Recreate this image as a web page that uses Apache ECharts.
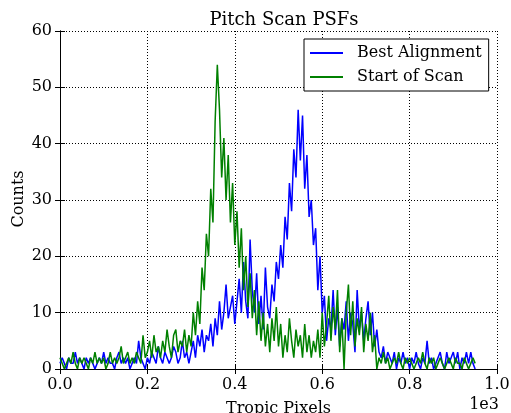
<!DOCTYPE html>
<html>
<head>
<meta charset="utf-8">
<script src="https://cdn.jsdelivr.net/npm/echarts@6/dist/echarts.min.js"></script>
<style>
html,body{margin:0;padding:0;background:#fff;}
#chart{width:511px;height:413px;}
</style>
</head>
<body>
<div id="chart"></div>
<script>
// Tropic pixel positions: samples every 5 pixels from 0 to 950
const xStep = 5;

// Best Alignment counts (one value per 5 pixels)
const bestAlignment = [
  1,2,1,0,2,1,1,3,1,2, 1,0,2,1,2,1,0,1,2,1, 3,1,2,1,1,0,2,3,1,2, 1,2,0,1,2,1,5,2,1,0,
  2,1,3,2,1,4,2,1,3,2, 1,2,4,3,1,2,5,2,3,1,
  3,5,2,6,4,7,3,6,5,8, 4,9,6,12,7,10,15,9,11,13,
  8,12,16,10,19,12,9,23,14,10, 17,8,13,7,18,11,9,15,12,19,
  16,22,18,27,23,33,28,39,34,46, 37,45,32,38,27,30,22,25,14,20,
  10,13,5,9,7,14,6,11,4,9, 7,12,5,10,8,3,14,7,10,5,
  9,12,6,10,4,7,3,2,4,1, 3,2,1,3,0,2,1,3,1,2,
  0,2,1,3,1,0,2,1,5,1, 2,0,1,2,3,1,0,3,1,2, 3,1,3,0,2,1,3,1,3,1, 0
];

// Start of Scan counts (one value per 5 pixels)
const startOfScan = [
  2,1,0,1,2,1,3,1,0,2, 1,2,1,0,2,1,3,1,2,1, 2,0,1,3,1,2,1,2,4,1, 2,3,1,2,1,3,2,1,6,2,
  3,5,2,6,3,4,2,5,3,7, 4,2,6,7,3,5,4,7,3,6,
  4,10,6,12,8,18,14,24,20,32, 26,44,54,46,34,41,30,38,26,33,
  22,28,18,25,14,20,11,17,9,14, 6,12,5,10,4,8,3,9,5,11,
  4,8,2,6,3,9,5,2,7,4, 6,2,8,3,6,2,5,3,7,2,
  10,4,8,13,5,11,7,14,3,9, 0,10,15,6,12,4,9,6,11,3,
  8,5,10,3,6,0,2,1,3,1, 2,0,1,2,1,3,1,0,2,1,
  2,1,0,1,2,1,3,1,0,2, 1,2,0,1,2,1,0,1,2,1, 0,2,1,1,0,2,1,0,1,2, 1
];

const seriesNames = ['Best Alignment', 'Start of Scan'];
const seriesColors = ['#0000ff', '#008000'];
const xTicks = [0, 200, 400, 600, 800, 1000];
const yTicks = [0, 10, 20, 30, 40, 50, 60];

function toPairs(vals) {
  return vals.map((v, i) => [i * xStep, v]);
}

const font = 'DejaVu Serif';
const chart = echarts.init(document.getElementById('chart'), null, {renderer: 'canvas'});

const tickStyle = {show: true, inside: true, length: 5, lineStyle: {color: '#000', width: 1}};
const lineStyle = {show: true, lineStyle: {color: '#000', width: 1}};
const gridLine = {show: true, lineStyle: {color: '#000', width: 1, type: [1, 2]}};

chart.setOption({
  animation: false,
  backgroundColor: '#fff',
  title: {
    text: 'Pitch Scan PSFs',
    left: 279, top: 6, textAlign: 'center',
    textStyle: {fontFamily: font, fontSize: 18, fontWeight: 'normal', color: '#000'}
  },
  grid: {left: 60, right: 14, top: 31, bottom: 44, containLabel: false, outerBoundsMode: 'none'},
  legend: {
    data: seriesNames,
    orient: 'vertical',
    left: 304, top: 39,
    padding: [5, 7, 5, 6],
    itemGap: 6,
    itemWidth: 33, itemHeight: 2,
    icon: 'rect',
    borderColor: '#000', borderWidth: 1, borderRadius: 0,
    backgroundColor: '#fff',
    textStyle: {fontFamily: font, fontSize: 16, color: '#000', padding: [0, 0, 0, 9], lineHeight: 18}
  },
  xAxis: [{
    type: 'value', min: xTicks[0], max: xTicks[xTicks.length - 1], interval: 200,
    name: 'Tropic Pixels', nameLocation: 'middle', nameGap: 32,
    nameTextStyle: {fontFamily: font, fontSize: 16, color: '#000'},
    axisLine: lineStyle, axisTick: tickStyle, splitLine: gridLine,
    axisLabel: {fontFamily: font, fontSize: 16, color: '#000', margin: 8,
      formatter: v => (v / 1000).toFixed(1)}
  }, {
    type: 'value', position: 'top', min: 0, max: 1000, interval: 200,
    axisLine: lineStyle, axisTick: tickStyle, axisLabel: {show: false}, splitLine: {show: false}
  }],
  yAxis: [{
    type: 'value', min: yTicks[0], max: yTicks[yTicks.length - 1], interval: 10,
    axisLine: lineStyle, axisTick: tickStyle, splitLine: gridLine,
    axisLabel: {fontFamily: font, fontSize: 16, color: '#000', margin: 8}
  }, {
    type: 'value', position: 'right', min: 0, max: 60, interval: 10,
    axisLine: lineStyle, axisTick: tickStyle, axisLabel: {show: false}, splitLine: {show: false}
  }],
  graphic: [{
    type: 'text', right: 12, top: 397,
    style: {text: '1e3', font: '16px "DejaVu Serif"', fill: '#000'}
  }, {
    type: 'text', x: 19, y: 199, rotation: Math.PI / 2,
    style: {text: 'Counts', font: '16px "DejaVu Serif"', fill: '#000',
      align: 'center', verticalAlign: 'middle'}
  }],
  series: [{
    name: seriesNames[0], type: 'line', data: toPairs(bestAlignment),
    showSymbol: false, symbol: 'none', color: seriesColors[0],
    lineStyle: {width: 1.5, color: seriesColors[0]}
  }, {
    name: seriesNames[1], type: 'line', data: toPairs(startOfScan),
    showSymbol: false, symbol: 'none', color: seriesColors[1],
    lineStyle: {width: 1.5, color: seriesColors[1]}
  }]
});
</script>
</body>
</html>
